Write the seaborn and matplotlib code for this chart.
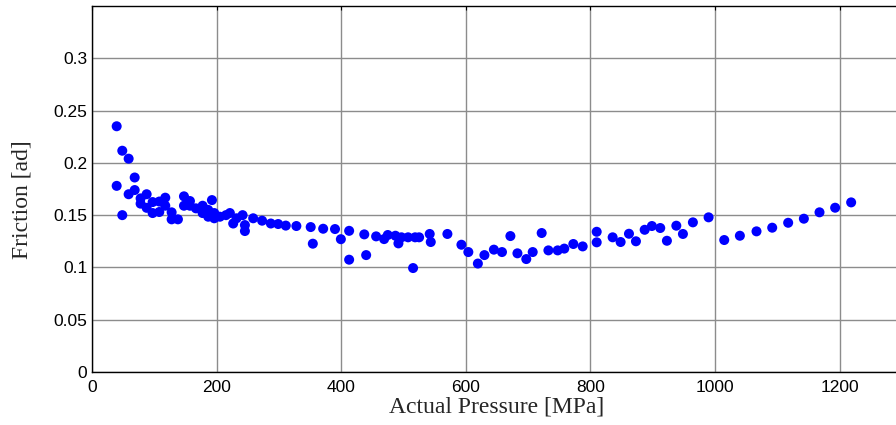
import numpy as np
import pandas as pd
import matplotlib
matplotlib.use("Agg")
import matplotlib.pyplot as plt
import seaborn as sns

# Values
pressure = [
    39.6, 48.6, 58.8, 68.5, 39.6, 68.5, 58.8, 87.7, 48.6, 78, 78, 87.7,
    97.3, 97.3, 108, 108, 117.6, 117.6, 127.8, 127.8, 137.9, 147.6, 147.6,
    157.2, 157.2, 166.8, 177.5, 177.5, 186.5, 192.5, 186.5, 196.2, 196.2,
    205.3, 215, 221.3, 226.6, 232, 241.7, 245.4, 245.4, 258.7, 273, 287,
    298.8, 311, 328, 351, 354.4, 371, 390, 399.4, 412.7, 412.7, 437, 440,
    456, 468.8, 474.7, 487, 491.8, 496.7, 507.3, 515.3, 518.6, 525, 542,
    543.7, 570.4, 592.9, 604, 619.3, 629.8, 645, 658, 671.5, 682.8, 697,
    707.3, 721.7, 732.5, 747.4, 758, 772.5, 787.5, 810, 810, 835.6, 848.4,
    861.8, 873, 887, 898.6, 912, 922.7, 937.8, 948.4, 964.4, 989.6, 1014.7,
    1039.8, 1066.5, 1091.7, 1117.3, 1142.5, 1167.6, 1192.7, 1218.4,
]
friction = [
    0.235, 0.2116, 0.204, 0.186, 0.178, 0.174, 0.170, 0.170, 0.150, 0.166,
    0.161, 0.157, 0.1625, 0.152, 0.163, 0.153, 0.1667, 0.159, 0.1527, 0.146,
    0.146, 0.168, 0.159, 0.1635, 0.159, 0.1565, 0.159, 0.152, 0.155, 0.1644,
    0.1485, 0.152, 0.147, 0.1485, 0.150, 0.152, 0.142, 0.147, 0.150, 0.1405,
    0.1348, 0.147, 0.1447, 0.142, 0.1415, 0.140, 0.1396, 0.1386, 0.1227,
    0.137, 0.1367, 0.127, 0.135, 0.1074, 0.1316, 0.1118, 0.1297, 0.1271,
    0.131, 0.1303, 0.123, 0.1288, 0.1288, 0.0994, 0.1288, 0.1288, 0.132,
    0.1243, 0.132, 0.1217, 0.1147, 0.1037, 0.1118, 0.117, 0.1147, 0.130,
    0.1135, 0.108, 0.1147, 0.1329, 0.1163, 0.1163, 0.118, 0.1224, 0.1201,
    0.1341, 0.124, 0.1288, 0.1243, 0.1322, 0.125, 0.136, 0.1396, 0.1377,
    0.1255, 0.1399, 0.132, 0.1431, 0.1479, 0.1262, 0.1303, 0.1345, 0.138,
    0.1427, 0.1466, 0.1527, 0.1571, 0.1622,
]
x_ticks = [0, 200, 400, 600, 800, 1000, 1200]
y_ticks = [0, 0.05, 0.1, 0.15, 0.2, 0.25, 0.3]
y_tick_labels = ["0", "0.05", "0.1", "0.15", "0.2", "0.25", "0.3"]

df = pd.DataFrame({"Actual Pressure": pressure, "Friction": friction})

sns.set_style("white")
plt.rcParams["font.family"] = ["Liberation Sans", "DejaVu Sans"]

fig = plt.figure(figsize=(8.96, 4.25), dpi=100)
# axes run a little past the right edge, as in the cropped original
ax = fig.add_axes([92 / 896, 1 - 372 / 425, 810 / 896, 366 / 425])

sns.scatterplot(data=df, x="Actual Pressure", y="Friction", ax=ax,
                color="#0000ff", s=52, edgecolor="none", zorder=3)

ax.set_xlim(0, 1300)
ax.set_ylim(0, 0.35)
ax.set_xticks(x_ticks)
ax.set_yticks(y_ticks)
ax.set_yticklabels(y_tick_labels)
ax.grid(True, color="#8c8c8c", linewidth=1.0, zorder=0)
ax.tick_params(direction="in", length=3, width=0.8, labelsize=12.5,
               top=True, right=True, colors="black")
ax.tick_params(axis="x", pad=6)

for sp in ax.spines.values():
    sp.set_color("black")
    sp.set_linewidth(1.0)

ax.set_xlabel("Actual Pressure [MPa]", fontsize=17, family="Liberation Serif",
              labelpad=1)
ax.set_ylabel("Friction [ad]", fontsize=17, family="Liberation Serif")
ax.yaxis.set_label_coords(-0.074, 0.47)

fig.savefig("out.png", dpi=100)
